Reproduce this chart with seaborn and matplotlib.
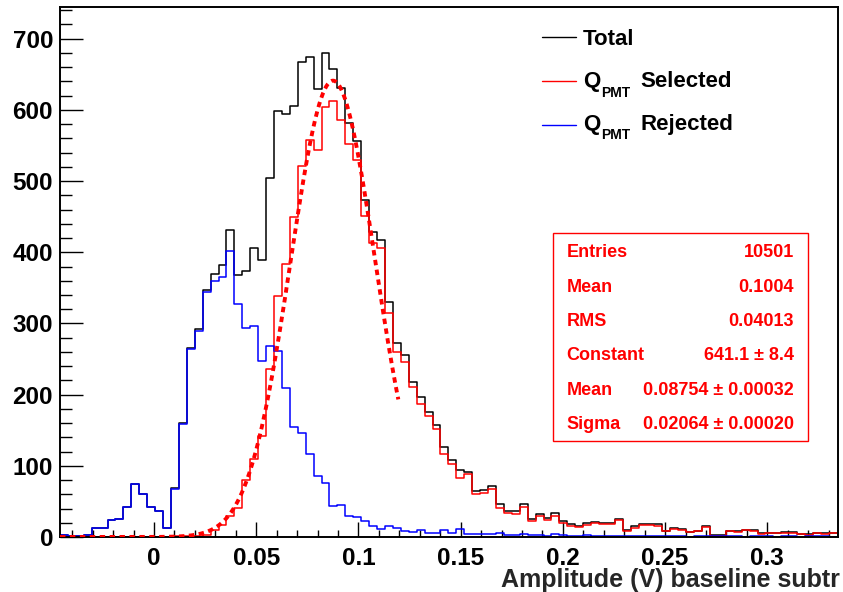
import numpy as np
import pandas as pd
import matplotlib
matplotlib.use("Agg")
import matplotlib.pyplot as plt
import seaborn as sns
from matplotlib.patches import Rectangle
from matplotlib.lines import Line2D
from matplotlib.ticker import MultipleLocator

# ---------------- data ----------------
X_MIN, X_MAX, N_BINS = -0.046, 0.334, 98

total = [3, 1, 2, 3, 12, 13, 24, 25, 42, 74,
         60, 42, 36, 13, 69, 160, 265, 292, 347, 369,
         382, 431, 368, 373, 406, 389, 505, 599, 594, 605,
         667, 675, 629, 680, 657, 631, 581, 557, 474, 428,
         417, 330, 272, 255, 218, 197, 175, 158, 127, 108,
         94, 92, 64, 66, 72, 46, 37, 36, 46, 25,
         32, 26, 34, 22, 18, 16, 20, 21, 20, 20,
         25, 10, 15, 18, 18, 18, 9, 12, 11, 7,
         9, 15, 3, 3, 9, 8, 10, 10, 5, 6,
         6, 7, 7, 4, 4, 6, 5, 5]

selected = [0, 0, 0, 0, 0, 0, 0, 0, 0, 0,
            0, 0, 0, 0, 1, 1, 1, 2, 3, 10,
            17, 29, 41, 80, 109, 142, 236, 338, 384, 450,
            521, 558, 544, 604, 613, 586, 552, 529, 451, 413,
            406, 314, 260, 246, 211, 187, 170, 152, 117, 102,
            83, 88, 60, 62, 68, 41, 34, 33, 42, 22,
            29, 24, 30, 19, 16, 14, 17, 19, 18, 18,
            24, 9, 13, 17, 17, 16, 8, 11, 10, 7,
            8, 14, 1, 2, 8, 7, 10, 9, 4, 5,
            6, 6, 6, 4, 3, 5, 4, 5]

rejected = [3, 1, 2, 3, 12, 13, 24, 25, 42, 74,
            60, 42, 36, 13, 68, 159, 264, 290, 344, 359,
            365, 402, 327, 293, 297, 247, 269, 261, 210, 155,
            146, 117, 85, 76, 44, 45, 29, 28, 23, 15,
            11, 16, 12, 9, 7, 10, 5, 6, 10, 6,
            11, 4, 4, 4, 4, 5, 3, 3, 4, 3,
            3, 2, 4, 3, 2, 2, 3, 2, 2, 2,
            1, 1, 2, 1, 1, 2, 1, 1, 1, 0,
            1, 1, 2, 1, 1, 1, 0, 1, 1, 1,
            0, 1, 1, 0, 1, 1, 1, 0]

series_names = ["Total", "Selected", "Rejected"]
# legend label pieces: (main, subscript, rest)
legend_parts = [("Total", "", ""), ("Q", "PMT", "Selected"), ("Q", "PMT", "Rejected")]

fit_constant, fit_mean, fit_sigma = 641.1, 0.08754, 0.02064
fit_xmax = 0.1195

stats_labels = ["Entries", "Mean", "RMS", "Constant", "Mean", "Sigma"]
stats_values = ["10501", "0.1004", "0.04013", "641.1 \u00b1 8.4",
                "0.08754 \u00b1 0.00032", "0.02064 \u00b1 0.00020"]

x_ticks = [0, 0.05, 0.1, 0.15, 0.2, 0.25, 0.3]
x_tick_labels = ["0", "0.05", "0.1", "0.15", "0.2", "0.25", "0.3"]
y_ticks = [0, 100, 200, 300, 400, 500, 600, 700]
y_tick_labels = ["0", "100", "200", "300", "400", "500", "600", "700"]
x_label = "Amplitude (V) baseline subtr"

# ---------------- style ----------------
sns.set_style("ticks")
plt.rcParams.update({
    "font.family": ["Liberation Sans", "DejaVu Sans"],
    "font.weight": "bold",
    "axes.edgecolor": "black",
    "text.color": "black",
})

W, H = 843, 592
fig = plt.figure(figsize=(W / 100, H / 100), dpi=100)
fig.patch.set_facecolor("white")
ax_l, ax_r, ax_t, ax_b = 60, 838, 6.7, 537
ax = fig.add_axes([ax_l / W, 1 - ax_b / H, (ax_r - ax_l) / W, (ax_b - ax_t) / H])

edges = np.linspace(X_MIN, X_MAX, N_BINS + 1)
centers = 0.5 * (edges[:-1] + edges[1:])
df = pd.DataFrame({
    "x": np.tile(centers, 3),
    "count": total + selected + rejected,
    "series": np.repeat(series_names, N_BINS),
})
colors = {"Total": "black", "Selected": "#ff0000", "Rejected": "#0000ff"}

for name in series_names:
    sns.histplot(data=df[df["series"] == name], x="x", weights="count",
                 bins=[float(e) for e in edges],
                 element="step", fill=False, color=colors[name], linewidth=1.1, ax=ax)

# Gaussian fit curve
xf = np.linspace(X_MIN, fit_xmax, 400)
yf = fit_constant * np.exp(-0.5 * ((xf - fit_mean) / fit_sigma) ** 2)
ax.plot(xf, yf, color="#ff0000", lw=2.8, linestyle=(0, (1.4, 1.15)), zorder=5)

ax.set_xlim(X_MIN, X_MAX + 0.0006)
ax.set_ylim(0, 745)
ax.set_ylabel("")
ax.set_xticks(x_ticks, x_tick_labels)
ax.set_yticks(y_ticks, y_tick_labels)
ax.xaxis.set_minor_locator(MultipleLocator(0.01))
ax.yaxis.set_minor_locator(MultipleLocator(20))
ax.tick_params(axis="both", which="both", direction="in", colors="black", width=1.0,
               top=False, right=False)
ax.tick_params(axis="y", which="major", length=16.5, pad=5, labelsize=17.5)
ax.tick_params(axis="y", which="minor", length=8.5)
ax.tick_params(axis="x", which="major", length=10.5, pad=7, labelsize=17.5)
ax.tick_params(axis="x", which="minor", length=5)
for lab in ax.get_xticklabels() + ax.get_yticklabels():
    lab.set_fontweight("bold")
for sp in ax.spines.values():
    sp.set_visible(True)
    sp.set_linewidth(1.4)
    sp.set_color("black")

ax.set_xlabel(x_label, fontsize=18, fontweight="bold", ha="right")
ax.xaxis.set_label_coords((840 - ax_l) / (ax_r - ax_l), -(568 - ax_b) / (ax_b - ax_t))

# ---------------- legend (no frame) ----------------
leg_line_y = [37.3, 81, 125]
leg_text_base = [45, 87.3, 130]
for name, parts, ly, tb in zip(series_names, legend_parts, leg_line_y, leg_text_base):
    fig.add_artist(Line2D([542 / W, 576 / W], [1 - ly / H, 1 - ly / H],
                          color=colors[name], lw=1.0))
    main, sub, rest = parts
    fig.text(582.7 / W, 1 - tb / H, main, fontsize=16, fontweight="bold",
             ha="left", va="baseline")
    if sub:
        fig.text(601.5 / W, 1 - (tb + 9.4) / H, sub, fontsize=10, fontweight="bold",
                 ha="left", va="baseline")
        fig.text(640.7 / W, 1 - tb / H, rest, fontsize=16, fontweight="bold",
                 ha="left", va="baseline")

# ---------------- stats box ----------------
bx0, bx1, by0, by1 = 553, 808, 233, 441
fig.add_artist(Rectangle((bx0 / W, 1 - by1 / H), (bx1 - bx0) / W, (by1 - by0) / H,
                         transform=fig.transFigure, facecolor="white",
                         edgecolor="#ff0000", lw=1.0, zorder=3))
row_base = [257.3, 291.7, 326.1, 360.5, 394.9, 429.3]
for lab, val, yb in zip(stats_labels, stats_values, row_base):
    fig.text(566.7 / W, 1 - yb / H, lab, color="#ff0000", fontsize=13,
             fontweight="bold", ha="left", va="baseline", zorder=4)
    fig.text(794 / W, 1 - yb / H, val, color="#ff0000", fontsize=13,
             fontweight="bold", ha="right", va="baseline", zorder=4)

fig.savefig("out.png", dpi=100)
